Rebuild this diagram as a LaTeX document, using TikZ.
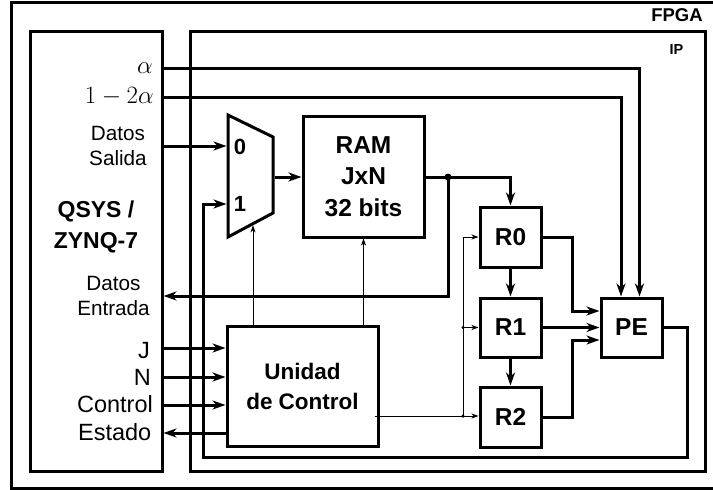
\documentclass[tikz,border=0pt]{standalone}
\usepackage[no-math]{fontspec}
\setmainfont{Liberation Sans}
\usetikzlibrary{arrows.meta,calc}
\begin{document}
\begin{tikzpicture}[x=1pt,y=-1pt,
  bx/.style={draw,line width=3pt,inner sep=0pt,outer sep=1.5pt},
  thk/.style={line width=3pt},
  thn/.style={line width=0.9pt},
  ta/.style={-{Stealth[length=13pt,width=9pt,inset=4pt]}},
  sa/.style={-{Stealth[length=7pt,width=5pt,inset=2pt]}},
  bigdot/.style={circle,fill,inner sep=0pt,minimum size=7pt},
  smalldot/.style={circle,fill,inner sep=0pt,minimum size=3.5pt},
  lbl/.style={inner sep=0pt,font=\fontsize{20.7}{24.5}\selectfont},
  lblb/.style={inner sep=0pt,font=\fontsize{23.5}{28}\selectfont},
  bfl/.style={font=\fontsize{#1}{#1}\selectfont\bfseries}
]
\useasboundingbox (0,0) rectangle (713,490);

% FPGA outer frame
\draw[thk] (720,2) -- (11,2) -- (11,488) -- (720,488);
\node[inner sep=0pt,bfl=18.5] (lfpga) at (677,15) {FPGA};

% IP box
\node[bx,minimum width=515,minimum height=440] (ip) at (447.5,251) {};
\node[inner sep=0pt,bfl=14.5] (lip) at (676.5,50) {IP};

% QSYS box
\node[bx,minimum width=132,minimum height=440] (qsys) at (96,251) {};
\node[inner sep=0pt,anchor=east,font=\fontsize{24.5}{28}\selectfont] (la) at (153,68) {$\alpha$};
\node[inner sep=0pt,anchor=east,font=\fontsize{24.5}{28}\selectfont] (lb) at (154,97) {$1-2\alpha$};
\node[lbl,align=center] (lds) at (118,146) {Datos\\Salida};
\node[inner sep=0pt,align=center,font=\fontsize{23}{31}\selectfont\bfseries] (lq) at (96,227) {QSYS /\\ZYNQ-7};
\node[lbl,align=center] (lde) at (113.5,296) {Datos\\Entrada};
\node[lblb,anchor=base east] (lj) at (150,358) {J};
\node[lblb,anchor=base east] (ln) at (151,385.7) {N};
\node[lblb,anchor=base east] (lc) at (153,412.7) {Control};
\node[lblb,anchor=base east] (le) at (151.5,440.7) {Estado};

% MUX
\draw[thk,line join=miter] (228,115) -- (273,137) -- (273,213) -- (228,237) -- cycle;
\coordinate (mux0) at (226.5,146);
\coordinate (mux1) at (226.5,204);
\coordinate (muxo) at (274.5,177);
\coordinate (muxs) at (253,225.3);
\node[inner sep=0pt,bfl=22] (m0) at (240,146.5) {0};
\node[inner sep=0pt,bfl=22] (m1) at (240,203.5) {1};

% RAM
\node[bx,minimum width=121,minimum height=121,align=center,font=\fontsize{24.5}{31.5}\selectfont\bfseries] (ram) at (363.5,176.5) {RAM\\JxN\\32 bits};

% Control unit
\node[bx,minimum width=151,minimum height=120,align=center,font=\fontsize{22.5}{30}\selectfont\bfseries] (ctrl) at (302.5,386) {Unidad\\de Control};

% Registers and PE
\node[bx,minimum width=61,minimum height=60,bfl=24.5] (r0) at (510.5,237) {R0};
\node[bx,minimum width=61,minimum height=59,bfl=24.5] (r1) at (510.5,327.5) {R1};
\node[bx,minimum width=61,minimum height=60,bfl=24.5] (r2) at (510.5,417) {R2};
\node[bx,minimum width=61,minimum height=59,bfl=24.5] (pe) at (631.5,327.5) {PE};

% row coordinates
\coordinate (yde) at (0,296);
\coordinate (yj) at (0,348);
\coordinate (yn) at (0,377);
\coordinate (yc) at (0,405);
\coordinate (ye) at (0,433);
\coordinate (yr2) at (0,416);
\coordinate (jr) at (448,177);
\coordinate (jv) at (463,416);
\coordinate (jv1) at (463,327.5);
\coordinate (bus0) at (572,237);
\coordinate (bus2) at (572,417);
\coordinate (fbr) at (687,457);
\coordinate (fbl) at (203,457);

% alpha, 1-2alpha to PE
\draw[thk,ta] (qsys.east |- la) -| ([xshift=8pt]pe.north);
\draw[thk,ta] (qsys.east |- lb) -| ([xshift=-10.5pt]pe.north);

% data path
\draw[thk,ta] (qsys.east |- mux0) -- (mux0);
\draw[thk,ta] (muxo) -- (ram.west |- muxo);
\draw[thk,ta] (ram.east |- jr) -| (r0.north);
\node[bigdot] (dot1) at (jr) {};
\draw[thk,ta] (dot1.center) |- (qsys.east |- yde);

% control unit I/O
\draw[thk,ta] (qsys.east |- yj) -- (ctrl.west |- yj);
\draw[thk,ta] (qsys.east |- yn) -- (ctrl.west |- yn);
\draw[thk,ta] (qsys.east |- yc) -- (ctrl.west |- yc);
\draw[thk,ta] (ctrl.west |- ye) -- (qsys.east |- ye);

% control signals (thin)
\draw[thn,sa] (ctrl.north -| muxs) -- (muxs);
\draw[thn,sa] (ctrl.north -| ram.south) -- (ram.south);
\draw[thn,sa] ([xshift=-5pt]ctrl.east |- yr2) -- (r2.west |- yr2);
\node[smalldot] (dot2) at (jv) {};
\node[smalldot] (dot3) at (jv1) {};
\draw[thn,sa] (dot2.center) |- (r0.west);
\draw[thn,sa] (dot3.center) -- (r1.west);

% register chain
\draw[thk,ta] (r0.south) -- (r1.north);
\draw[thk,ta] (r1.south) -- (r2.north);

% registers to PE
\draw[thk,ta] (r0.east) -- (bus0) |- ([yshift=16.5pt]pe.west);
\draw[thk,ta] (r1.east) -- (pe.west);
\draw[thk,ta] (r2.east) -- (bus2) |- ([yshift=-12.5pt]pe.west);

% PE feedback to mux input 1
\draw[thk,ta] (pe.east) -| (fbr) -- (fbl) |- (mux1);
\end{tikzpicture}
\end{document}
